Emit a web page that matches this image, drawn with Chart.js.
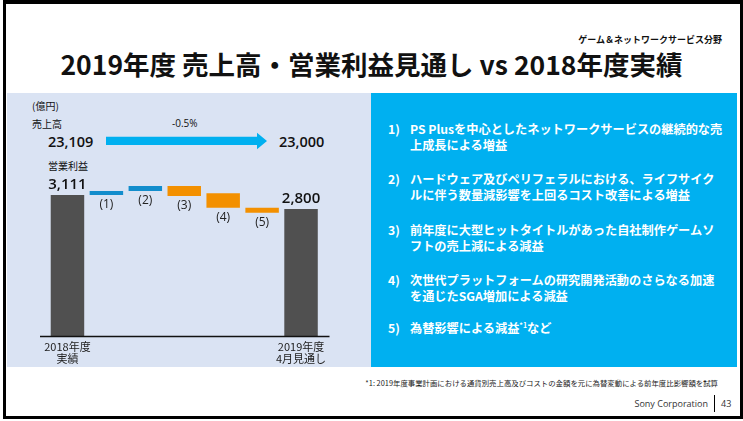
<!DOCTYPE html>
<html>
<head>
<meta charset="utf-8">
<script src="https://cdn.jsdelivr.net/npm/chart.js@4.4.0/dist/chart.umd.min.js"></script>
<style>
  body { margin: 0; width: 743px; height: 421px; background: #fff; position: relative; overflow: hidden;
         font-family: "Noto Sans CJK JP", "Noto Sans", sans-serif; color: #111; }
  .abs { position: absolute; white-space: nowrap; }
  .frame { position: absolute; left: 3px; top: 0; width: 734px; height: 412px; border: 3px solid #000; border-top-width: 4px; }
  .panelL { position: absolute; left: 7px; top: 93px; width: 364px; height: 274px; background: #dae3f3; }
  .panelR { position: absolute; left: 371px; top: 93px; width: 366px; height: 274px; background: #00b0f0; }
  .item { position: absolute; left: 388px; color: #fff; font-weight: bold; font-size: 12.2px; line-height: 16px; white-space: nowrap; }
  .item span { position: absolute; left: 22px; top: 0; }
  #wrap { position: absolute; left: 7px; top: 93px; width: 364px; height: 280px; }
</style>
</head>
<body>
<div class="frame"></div>
<div class="abs" style="right:21px; top:33px; font-size:9px; font-weight:bold;">ゲーム＆ネットワークサービス分野</div>
<div class="abs" style="left:0; width:743px; text-align:center; top:46px; font-size:26.5px; font-weight:bold; line-height:36px;">2019年度 売上高・営業利益見通し vs 2018年度実績</div>

<div class="panelL"></div>
<div class="panelR"></div>

<div class="abs" style="left:32px; top:98px; font-size:10px;">(億円)</div>
<div class="abs" style="left:32px; top:116px; font-size:10px;">売上高</div>
<div class="abs" style="left:48px; top:132px; font-size:14.5px; font-weight:600; font-family:'Open Sans',sans-serif;">23,109</div>
<div class="abs" style="left:172px; top:116px; font-size:10px; font-family:'Open Sans',sans-serif;">-0.5%</div>
<svg class="abs" style="left:100px; top:128px;" width="175" height="26">
  <polygon points="6,8.7 157,8.7 157,4.7 167,13 157,21.3 157,17 6,17" fill="#00b0f0"/>
</svg>
<div class="abs" style="left:279px; top:132px; font-size:14.5px; font-weight:600; font-family:'Open Sans',sans-serif;">23,000</div>
<div class="abs" style="left:48px; top:158px; font-size:10px;">営業利益</div>

<div id="wrap"><canvas id="grafica"></canvas></div>

<div class="item" style="top:121px;">1)<span>PS Plusを中心としたネットワークサービスの継続的な売<br>上成長による増益</span></div>
<div class="item" style="top:171px;">2)<span>ハードウェア及びペリフェラルにおける、ライフサイク<br>ルに伴う数量減影響を上回るコスト改善による増益</span></div>
<div class="item" style="top:222px;">3)<span>前年度に大型ヒットタイトルがあった自社制作ゲームソ<br>フトの売上減による減益</span></div>
<div class="item" style="top:272px;">4)<span>次世代プラットフォームの研究開発活動のさらなる加速<br>を通じたSGA増加による減益</span></div>
<div class="item" style="top:320px;">5)<span>為替影響による減益<sup style="font-size:7px; vertical-align:5px; line-height:0;">*1</sup>など</span></div>

<div class="abs" style="right:25px; top:377px; font-size:7.4px; color:#222;">*1: 2019年度事業計画における通貨別売上高及びコストの金額を元に為替変動による前年度比影響額を試算</div>
<div class="abs" style="right:35px; top:397px; font-size:9px; color:#333; font-family:'Open Sans',sans-serif;">Sony Corporation</div>
<div class="abs" style="left:714px; top:395px; width:1px; height:17px; background:#000;"></div>
<div class="abs" style="left:721px; top:397px; font-size:9px; color:#333; font-family:'Open Sans',sans-serif;">43</div>

<script>
// categorias y valores (億円)
const categorias = ["2018年度\n実績", "(1)", "(2)", "(3)", "(4)", "(5)", "2019年度\n4月見通し"];
const valoresBajos = [0, 3111, 3200, 3090, 2830, 2720, 0];
const valoresAltos = [3111, 3200, 3310, 3310, 3150, 2830, 2800];
const etiquetasValor = ["3,111", "", "", "", "", "", "2,800"];
const coloresBarras = ["#505050", "#128dcc", "#128dcc", "#f39000", "#f39000", "#f39000", "#505050"];

const esTotal = (i) => i === 0 || i === categorias.length - 1;

// Etiquetas sobre y debajo de las barras + linea base
const pluginEtiquetas = {
  id: "etiquetas",
  afterDatasetsDraw(chart) {
    const ctx = chart.ctx;
    const meta = chart.getDatasetMeta(0);
    const y0 = chart.scales.y.getPixelForValue(0);
    ctx.save();
    // linea base
    ctx.strokeStyle = "#111";
    ctx.lineWidth = 1.3;
    ctx.beginPath();
    ctx.moveTo(chart.chartArea.left - 8, y0 + 0.5);
    ctx.lineTo(chart.chartArea.right + 9, y0 + 0.5);
    ctx.stroke();

    meta.data.forEach((bar, i) => {
      ctx.textAlign = "center";
      if (esTotal(i)) {
        ctx.font = "600 15px 'Open Sans', sans-serif";
        ctx.fillStyle = "#111";
        ctx.textBaseline = "bottom";
        ctx.fillText(etiquetasValor[i], bar.x, bar.y - 3);
      } else {
        const abajo = chart.scales.y.getPixelForValue(valoresBajos[i]);
        ctx.font = "12px 'Open Sans', sans-serif";
        ctx.fillStyle = "#222";
        ctx.textBaseline = "middle";
        ctx.fillText(categorias[i], bar.x, abajo + 9.5);
      }
    });
    ctx.restore();
  },
};

const datos = categorias.map((c, i) => [valoresBajos[i], valoresAltos[i]]);

new Chart(document.getElementById("grafica"), {
  type: "bar",
  data: {
    labels: categorias,
    datasets: [
      {
        data: datos,
        backgroundColor: coloresBarras,
        borderWidth: 0,
        categoryPercentage: 1,
        barPercentage: 0.86,
      },
    ],
  },
  options: {
    responsive: true,
    maintainAspectRatio: false,
    animation: false,
    layout: { padding: { left: 41, right: 50.5, top: 84.4, bottom: 0 } },
    plugins: { legend: { display: false }, tooltip: { enabled: false } },
    scales: {
      y: { display: false, min: 0, max: 3500 },
      x: {
        grid: { display: false, drawTicks: false },
        border: { display: false },
        afterFit: (scale) => { scale.height = 37; },
        ticks: {
          autoSkip: false,
          maxRotation: 0,
          padding: 5,
          color: "#222",
          font: { size: 11, family: "'Noto Sans CJK JP', sans-serif", lineHeight: 1.1 },
          callback: function (valor, i) {
            return esTotal(i) ? categorias[i].split("\n") : "";
          },
        },
      },
    },
  },
  plugins: [pluginEtiquetas],
});
</script>
</body>
</html>
